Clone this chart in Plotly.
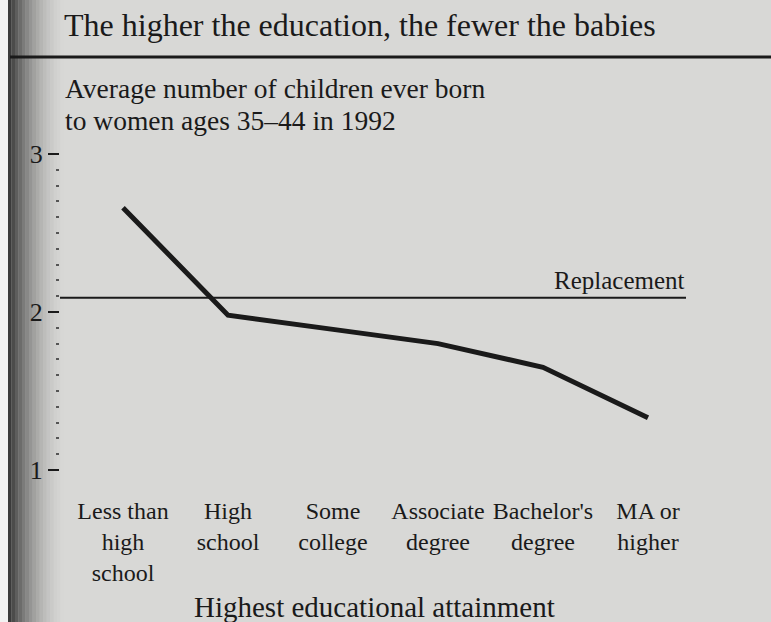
import plotly.graph_objects as go

categories = ["Less than<br>high<br>school", "High<br>school", "Some<br>college",
              "Associate<br>degree", "Bachelor's<br>degree", "MA or<br>higher"]
children = [2.66, 1.98, 1.89, 1.80, 1.65, 1.33]
replacement = 2.09
y_ticks = [1, 2, 3]

W, H = 771, 622
L, R, T, B = 60, 81, 140, 142
pw, ph = W - L - R, H - T - B

def px(x):
    return (x - L) / pw

def py(y):
    return (H - B - y) / ph

BG = "#d8d8d6"
INK = "#1a1a1a"
FONT = "Liberation Serif"

fig = go.Figure()
fig.add_trace(go.Scatter(
    x=list(range(len(categories))), y=children, mode="lines",
    line=dict(color=INK, width=5), hoverinfo="skip", showlegend=False))

shapes = []
# binding shadow on the left
steps = 16
for i in range(steps):
    x0 = 8 + i * 3.5
    op = 0.8 * (1 - i / steps) ** 1.8
    shapes.append(dict(type="rect", xref="paper", yref="paper",
                       x0=px(x0), x1=px(x0 + 3.5), y0=py(H), y1=py(0),
                       fillcolor=f"rgba(20,20,20,{op:.3f})", line=dict(width=0),
                       layer="below"))
shapes.append(dict(type="rect", xref="paper", yref="paper",
                   x0=px(0), x1=px(8), y0=py(H), y1=py(0),
                   fillcolor="#f2f2f2", line=dict(width=0), layer="below"))
# rule under the title
shapes.append(dict(type="line", xref="paper", yref="paper",
                   x0=px(10), x1=px(W + 5), y0=py(57), y1=py(57),
                   line=dict(color=INK, width=3)))
# replacement level
shapes.append(dict(type="line", xref="paper", yref="y",
                   x0=0, x1=px(686), y0=replacement, y1=replacement,
                   line=dict(color=INK, width=2)))

annotations = [
    dict(text="Average number of children ever born",
         xref="paper", yref="paper", x=px(63), y=py(88), xanchor="left", yanchor="middle",
         showarrow=False, font=dict(family=FONT, size=27.5, color=INK)),
    dict(text="to women ages 35–44 in 1992",
         xref="paper", yref="paper", x=px(63), y=py(120), xanchor="left", yanchor="middle",
         showarrow=False, font=dict(family=FONT, size=27.5, color=INK)),
    dict(text="Replacement", xref="paper", yref="y", x=px(687), y=replacement,
         xanchor="right", yanchor="bottom", yshift=2, showarrow=False,
         font=dict(family=FONT, size=25, color=INK)),
    dict(text="Highest educational attainment", xref="paper", yref="paper",
         x=px(374), y=py(607), xanchor="center", yanchor="middle", showarrow=False,
         font=dict(family=FONT, size=29, color=INK)),
]

fig.update_layout(
    width=W, height=H,
    margin=dict(l=L, r=R, t=T, b=B),
    paper_bgcolor=BG, plot_bgcolor="rgba(0,0,0,0)",
    shapes=shapes, annotations=annotations,
    title=dict(text="The higher the education, the fewer the babies",
               x=px(64), xref="paper", xanchor="left",
               y=1 - 25 / H, yref="container", yanchor="middle",
               font=dict(family=FONT, size=32, color=INK)),
    xaxis=dict(range=[-0.6, 5.4], tickmode="array",
               tickvals=list(range(len(categories))), ticktext=categories,
               showgrid=False, zeroline=False, showline=False, ticks="",
               ticklabelstandoff=14,
               tickfont=dict(family=FONT, size=24, color=INK)),
    yaxis=dict(range=[1 - 10 / 158, 3 + 14 / 158], tickmode="array",
               tickvals=y_ticks, ticktext=[str(v) for v in y_ticks],
               showgrid=False, zeroline=False, showline=False,
               ticks="outside", ticklen=11, tickwidth=2, tickcolor=INK,
               minor=dict(dtick=0.1, tick0=1, ticks="outside", ticklen=3,
                          tickwidth=2, tickcolor="#555"),
               tickfont=dict(family=FONT, size=26, color=INK)),
)

fig.write_html("out.html", config={"displayModeBar": False},
               post_script="document.body.style.margin='0';")
